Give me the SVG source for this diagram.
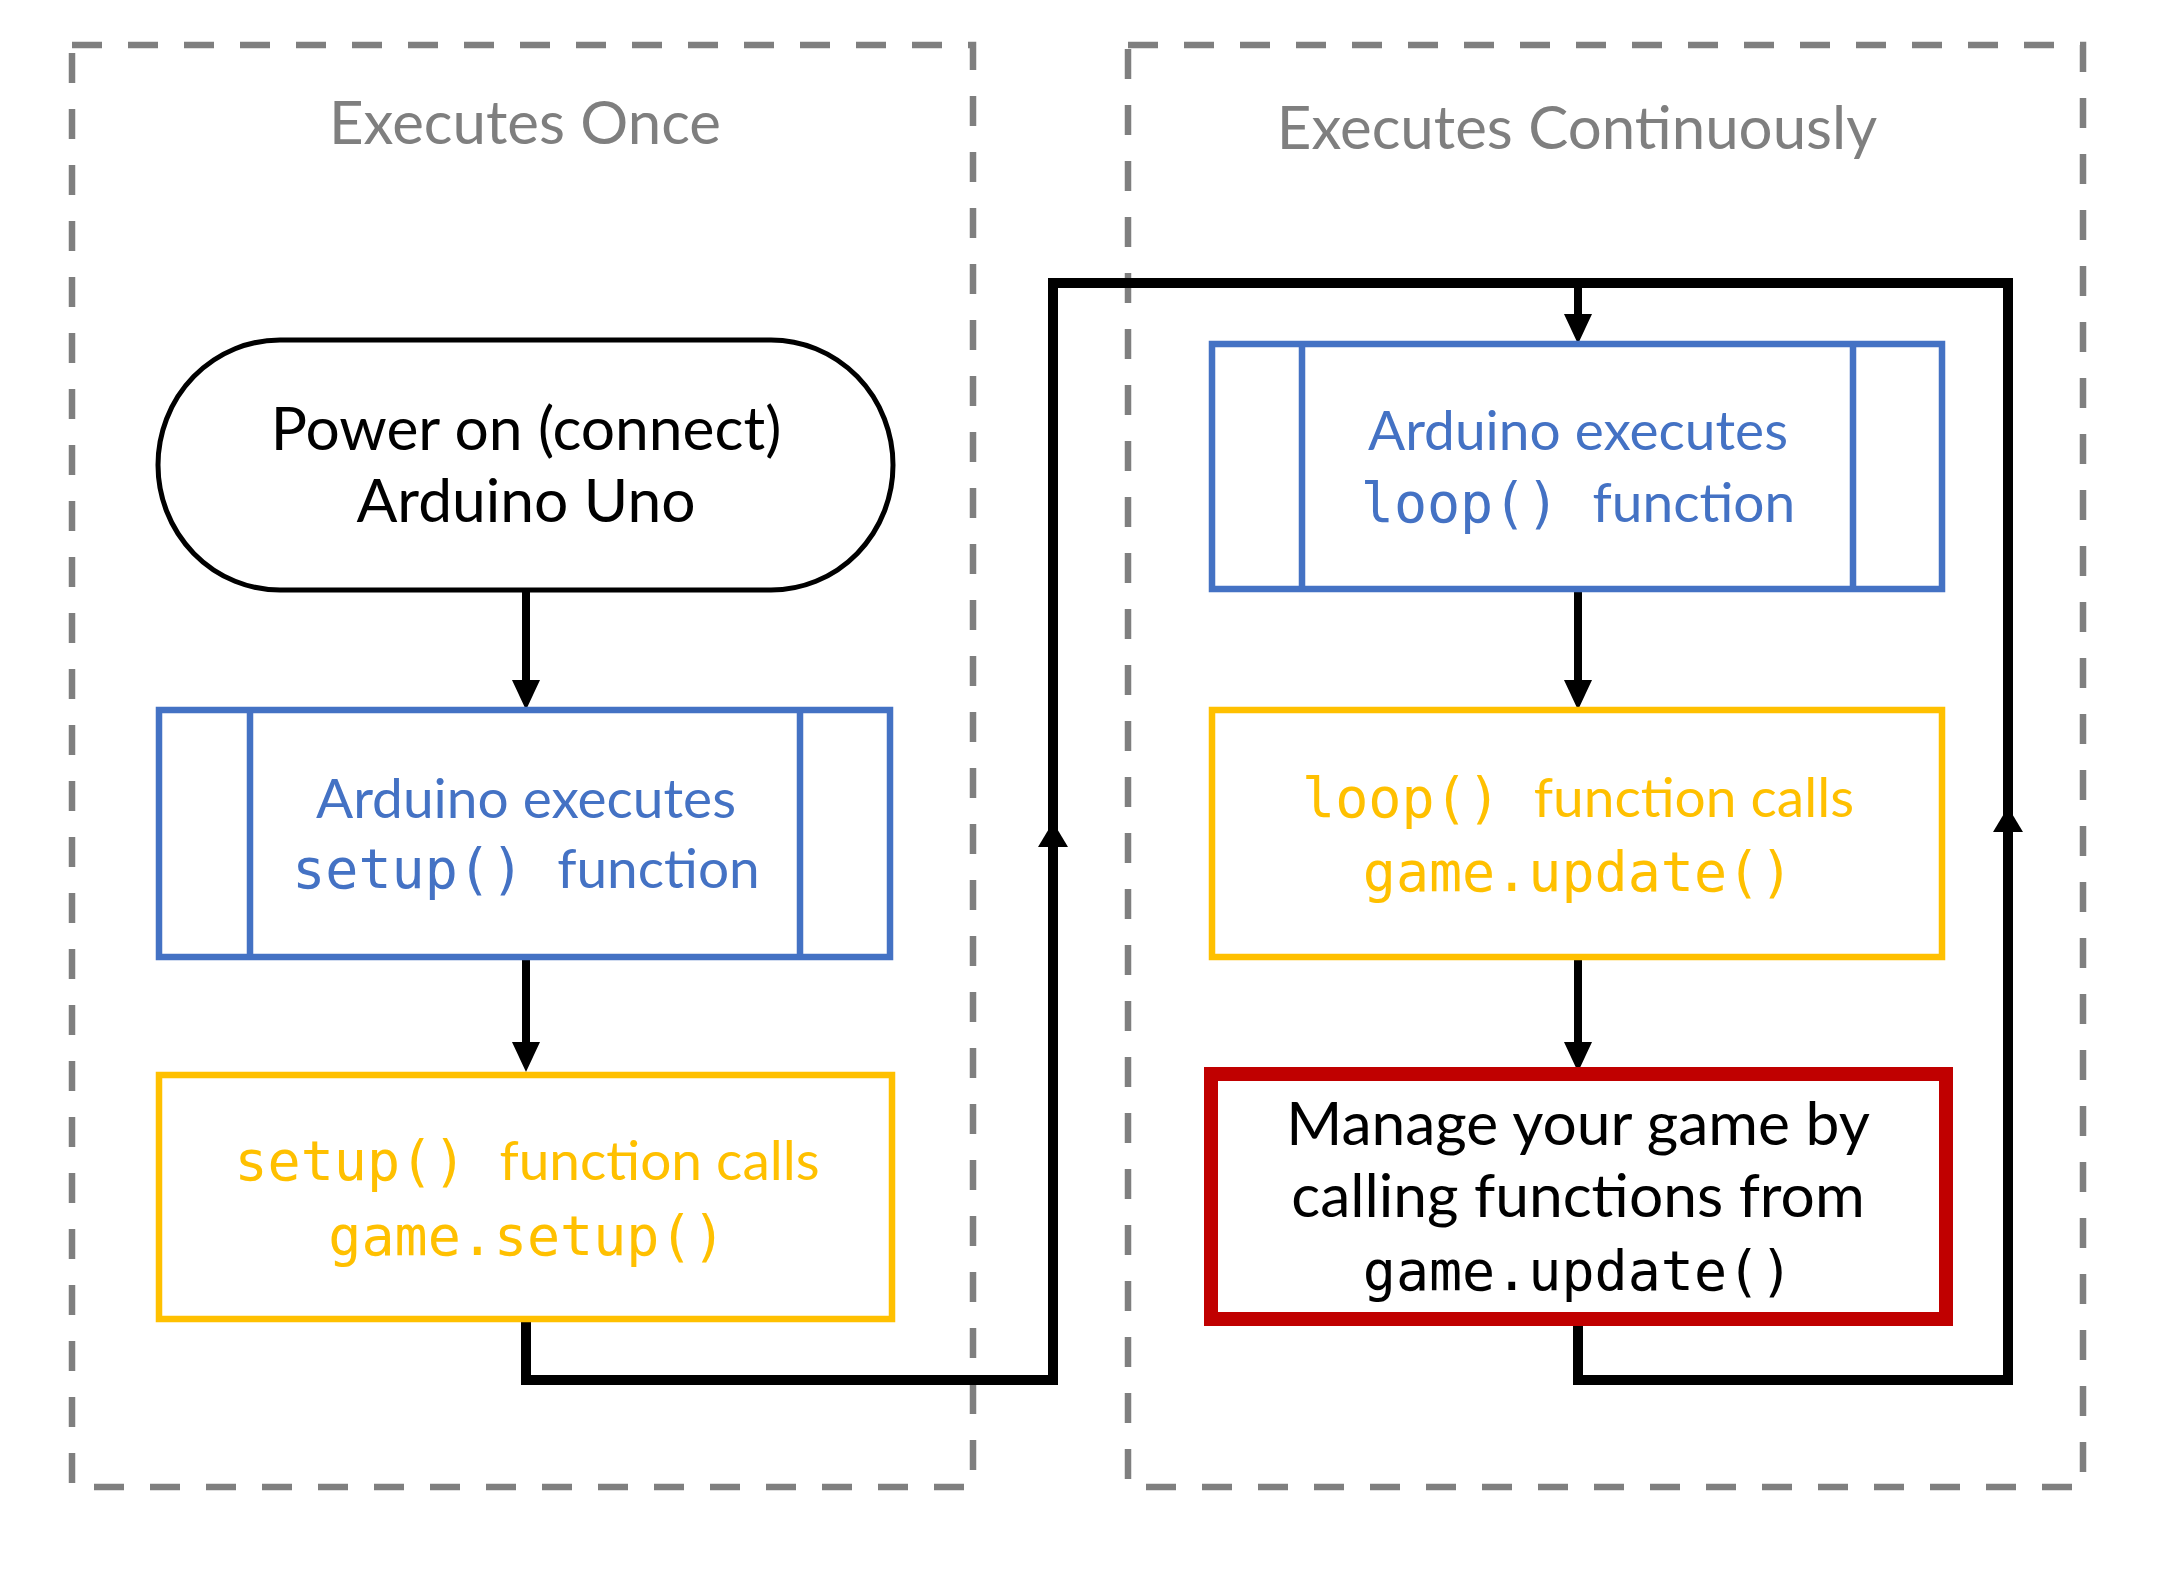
<svg xmlns="http://www.w3.org/2000/svg" width="2172" height="1570" viewBox="0 0 2172 1570">
<style>
.zone{fill:none;stroke:#7F7F7F;stroke-width:6.5;stroke-dasharray:30 26}
.title{font-family:Lato,"Open Sans",sans-serif;font-size:60px;fill:#7F7F7F;text-anchor:middle}
.t{font-family:Lato,"Open Sans",sans-serif;font-size:55px;text-anchor:middle}
.tb{font-family:Lato,"Open Sans",sans-serif;font-size:60.5px;text-anchor:middle;fill:#000}
.m{font-family:"DejaVu Sans Mono","Liberation Mono",monospace;font-size:55px}
.blue{fill:none;stroke:#4472C4;stroke-width:6.5}
.yel{fill:none;stroke:#FFC000;stroke-width:6.5}
.conn{fill:none;stroke:#000;stroke-width:8}
.loop{fill:none;stroke:#000;stroke-width:10}
</style>
<defs>
<marker id="ah" markerUnits="userSpaceOnUse" markerWidth="30" markerHeight="28" refX="0" refY="14" orient="auto" viewBox="0 0 30 28">
<path d="M0,0 L30,14 L0,28 z" fill="#000"/>
</marker>
<marker id="ahm" markerUnits="userSpaceOnUse" markerWidth="25" markerHeight="30" refX="0" refY="15" orient="auto" viewBox="0 0 25 30">
<path d="M0,0 L25,15 L0,30 z" fill="#000"/>
</marker>
</defs>
<rect width="2172" height="1570" fill="#fff"/>
<g id="zone-once">
<rect class="zone" x="72" y="45" width="901" height="1442"/>
<text class="title" x="525" y="144">Executes Once</text>
</g>
<g id="zone-continuous">
<rect class="zone" x="1128" y="45" width="955" height="1442"/>
<text class="title" x="1577" y="149">Executes Continuously</text>
</g>
<g id="connectors">
<path class="conn" d="M526,590 V680" marker-end="url(#ah)"/>
<path class="conn" d="M526,957 V1042" marker-end="url(#ah)"/>
<path class="conn" d="M1578,589 V680" marker-end="url(#ah)"/>
<path class="conn" d="M1578,957 V1042" marker-end="url(#ah)"/>
<path class="conn" d="M1578,283 V314" marker-end="url(#ah)"/>
<path class="loop" d="M526,1319 V1380 H1053 V847" marker-end="url(#ahm)"/>
<path class="loop" d="M1053,850 V283 H2008 V832"/>
<path class="loop" d="M1578,1326 V1380 H2008 V832" marker-end="url(#ahm)"/>
</g>
<g id="power-on">
<rect x="158" y="340" width="735" height="250" rx="122" ry="125" fill="#fff" stroke="#000" stroke-width="5"/>
<text class="tb" x="526" y="450">Power on (connect)</text>
<text class="tb" x="526" y="522">Arduino Uno</text>
</g>
<g id="setup-exec">
<rect class="blue" x="159" y="710" width="731" height="247"/>
<line class="blue" x1="250" y1="710" x2="250" y2="957"/>
<line class="blue" x1="800" y1="710" x2="800" y2="957"/>
<text class="t" x="526" y="818" fill="#4472C4">Arduino executes</text>
<text class="t" x="526" y="888" fill="#4472C4"><tspan class="m">setup() </tspan>function</text>
</g>
<g id="setup-calls">
<rect class="yel" x="159" y="1075" width="733" height="244"/>
<text class="t" x="527" y="1180" fill="#FFC000"><tspan class="m">setup() </tspan>function calls</text>
<text class="t" x="527" y="1255" fill="#FFC000"><tspan class="m">game.setup()</tspan></text>
</g>
<g id="loop-exec">
<rect class="blue" x="1212" y="344" width="730" height="245"/>
<line class="blue" x1="1302" y1="344" x2="1302" y2="589"/>
<line class="blue" x1="1853" y1="344" x2="1853" y2="589"/>
<text class="t" x="1578" y="450" fill="#4472C4">Arduino executes</text>
<text class="t" x="1578" y="522" fill="#4472C4"><tspan class="m">loop() </tspan>function</text>
</g>
<g id="loop-calls">
<rect class="yel" x="1212" y="710" width="730" height="247"/>
<text class="t" x="1578" y="817" fill="#FFC000"><tspan class="m">loop() </tspan>function calls</text>
<text class="t" x="1578" y="891" fill="#FFC000"><tspan class="m">game.update()</tspan></text>
</g>
<g id="manage-game">
<rect x="1211" y="1074" width="735" height="245" fill="none" stroke="#C00000" stroke-width="14"/>
<text class="tb" x="1578" y="1145">Manage your game by</text>
<text class="tb" x="1578" y="1217">calling functions from</text>
<text class="tb" x="1578" y="1290"><tspan class="m">game.update()</tspan></text>
</g>
</svg>
